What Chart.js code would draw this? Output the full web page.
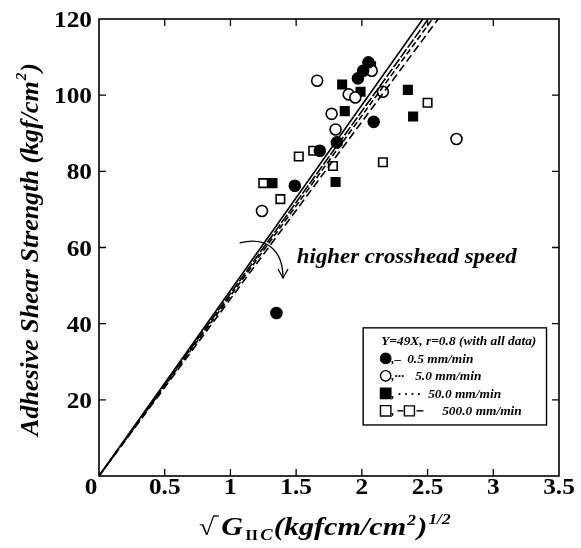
<!DOCTYPE html>
<html><head><meta charset="utf-8">
<script src="https://cdn.jsdelivr.net/npm/chart.js@4"></script>
<style>html,body{margin:0;padding:0;background:#fff}#wrap{width:581px;height:548px}</style>
</head><body><div id="wrap"><canvas id="c" width="581" height="548"></canvas></div>
<script>
const xTicks = [0, 0.5, 1, 1.5, 2, 2.5, 3, 3.5];
const yTicks = [0, 20, 40, 60, 80, 100, 120];
const speeds = ['0.5 mm/min', '5.0 mm/min', '50.0 mm/min', '500.0 mm/min'];
const fitSlopes = [48.7, 47.9, 47.3, 46.5];
const s05 = [[1.35,42.8],[1.49,76.2],[1.68,85.4],[1.81,87.6],[1.97,104.4],[2.01,106.4],[2.05,108.6],[2.09,93.0]];
const s5 = [[1.24,69.6],[1.66,103.8],[1.77,95.1],[1.80,91.0],[1.90,100.2],[1.95,99.4],[2.075,106.4],[2.16,100.9],[2.72,88.5]];
const s50 = [[1.32,76.9],[1.80,77.2],[1.85,102.8],[1.87,95.8],[1.99,100.9],[2.07,107.6],[2.35,101.4],[2.39,94.4]];
const s500 = [[1.25,76.9],[1.38,72.7],[1.52,83.9],[1.63,85.4],[1.78,81.4],[2.16,82.4],[2.50,98.0]];
const legendTitle = 'Y=49X, r=0.8 (with all data)';
const annotationText = 'higher crosshead speed';

const SERIF = '"Liberation Serif", "DejaVu Serif", serif';
const toPts = a => a.map(p => ({x: p[0], y: p[1]}));
const lineDash = [[], [10, 2], [6, 3], [8, 4]];
const yMax = yTicks[yTicks.length - 1];

const pointSets = [
  {data: s05, style: 'circle', fill: '#000'},
  {data: s5, style: 'circle', fill: '#fff'},
  {data: s50, style: 'rect', fill: '#000'},
  {data: s500, style: 'rect', fill: '#fff'}
];

const datasets = [];
fitSlopes.forEach((m, i) => {
  datasets.push({type: 'line', data: [{x: 0, y: 0}, {x: yMax / m, y: yMax}], borderColor: '#000',
    borderWidth: 1.6, borderDash: lineDash[i], pointRadius: 0, fill: false, order: 0, clip: true});
});
pointSets.forEach(ps => {
  datasets.push({type: 'scatter', data: toPts(ps.data), pointStyle: ps.style,
    pointRadius: ps.style === 'rect' ? 6 : 5.5, pointBackgroundColor: ps.fill, pointBorderColor: '#000',
    pointBorderWidth: 1.6, order: 1});
});

function drawMarker(ctx, style, fill, cx, cy, r) {
  ctx.save(); ctx.lineWidth = 1.4; ctx.strokeStyle = '#000'; ctx.fillStyle = fill;
  ctx.beginPath();
  if (style === 'circle') ctx.arc(cx, cy, r, 0, Math.PI * 2);
  else ctx.rect(cx - r, cy - r, 2 * r, 2 * r);
  ctx.fill(); ctx.stroke(); ctx.restore();
}
function sText(ctx, text, x, y, align, sx, baseline) {
  ctx.save(); ctx.translate(x, y); ctx.scale(sx, 1);
  ctx.textAlign = align; ctx.textBaseline = baseline || 'alphabetic';
  ctx.fillText(text, 0, 0); ctx.restore();
}

const framePlugin = {
  id: 'frame',
  afterDraw(chart) {
    const ctx = chart.ctx, a = chart.chartArea, xs = chart.scales.x, ys = chart.scales.y;
    ctx.save();
    ctx.strokeStyle = '#000'; ctx.lineWidth = 1.6;
    ctx.strokeRect(a.left, a.top, a.right - a.left, a.bottom - a.top);
    ctx.lineWidth = 1.3;
    xTicks.slice(1, -1).forEach(v => {
      const px = xs.getPixelForValue(v);
      ctx.beginPath(); ctx.moveTo(px, a.bottom); ctx.lineTo(px, a.bottom - 7);
      ctx.moveTo(px, a.top); ctx.lineTo(px, a.top + 7); ctx.stroke();
    });
    yTicks.slice(1, -1).forEach(v => {
      const py = ys.getPixelForValue(v);
      ctx.beginPath(); ctx.moveTo(a.left, py); ctx.lineTo(a.left + 7, py);
      ctx.moveTo(a.right, py); ctx.lineTo(a.right - 7, py); ctx.stroke();
    });

    // tick labels
    ctx.fillStyle = '#000';
    ctx.font = 'bold 23px ' + SERIF;
    xTicks.forEach(v => {
      const px = xs.getPixelForValue(v);
      sText(ctx, String(v), v === 0 ? px - 8 : px, a.bottom + 18, 'center', 1.1);
    });
    yTicks.slice(1).forEach(v => {
      const py = ys.getPixelForValue(v);
      sText(ctx, String(v), a.left - 7, py + 8, 'right', 1.1);
    });

    // annotation arrow and text
    const P = (x, y) => [xs.getPixelForValue(x), ys.getPixelForValue(y)];
    const s = P(1.07, 61.2), c1 = P(1.27, 63.0), c2 = P(1.40, 59.5), e = P(1.40, 52.0);
    ctx.lineWidth = 1.3;
    ctx.beginPath(); ctx.moveTo(s[0], s[1]); ctx.bezierCurveTo(c1[0], c1[1], c2[0], c2[1], e[0], e[1]); ctx.stroke();
    ctx.beginPath(); ctx.moveTo(e[0] - 5, e[1] - 9); ctx.lineTo(e[0], e[1]); ctx.lineTo(e[0] + 5, e[1] - 9); ctx.stroke();
    const t = P(1.505, 55.9);
    ctx.font = 'italic bold 21px ' + SERIF;
    sText(ctx, annotationText, t[0], t[1], 'left', 1.09);

    // legend box
    const b0 = P(2.01, 38.9), b1 = P(3.405, 13.4);
    ctx.fillStyle = '#fff';
    ctx.fillRect(b0[0], b0[1], b1[0] - b0[0], b1[1] - b0[1]);
    ctx.lineWidth = 1.4; ctx.strokeStyle = '#000';
    ctx.strokeRect(b0[0], b0[1], b1[0] - b0[0], b1[1] - b0[1]);
    ctx.fillStyle = '#000';
    ctx.font = 'italic bold 13px ' + SERIF;
    const lx = b0[0] + 18;
    sText(ctx, legendTitle, lx, b0[1] + 14, 'left', 1.03, 'middle');
    const samples = [',\u2013', ',\u00b7\u00b7\u00b7', ', \u00b7 \u00b7 \u00b7 \u00b7', ','];
    const textOff = [44, 52, 65, 79];
    pointSets.forEach((ps, i) => {
      const cy = b0[1] + 30.5 + i * 17.5;
      drawMarker(ctx, ps.style, ps.fill, lx + 4.5, cy, 5.2);
      ctx.fillStyle = '#000';
      ctx.font = 'italic bold 13px ' + SERIF;
      let x = lx + 10;
      sText(ctx, samples[i], x, cy + 1, 'left', 1, 'middle');
      x += ctx.measureText(samples[i]).width + 3;
      if (i === 3) {
        ctx.lineWidth = 1.4;
        ctx.beginPath(); ctx.moveTo(x, cy); ctx.lineTo(x + 6, cy); ctx.stroke();
        drawMarker(ctx, 'rect', '#fff', x + 12, cy, 5);
        ctx.beginPath(); ctx.moveTo(x + 19, cy); ctx.lineTo(x + 26, cy); ctx.stroke();
      }
      sText(ctx, speeds[i], b0[0] + textOff[i], cy + 1, 'left', 1.03, 'middle');
    });

    // y axis title
    ctx.fillStyle = '#000';
    ctx.save();
    ctx.translate(31, (a.top + a.bottom) / 2 + 2);
    ctx.rotate(-Math.PI / 2);
    ctx.textBaseline = 'middle'; ctx.textAlign = 'left';
    const yt1 = 'Adhesive Shear Strength (kgf/cm', yt2 = '2', yt3 = ')';
    ctx.font = 'italic bold 26px ' + SERIF; const w1 = ctx.measureText(yt1).width, w3 = ctx.measureText(yt3).width;
    ctx.font = 'italic bold 15px ' + SERIF; const w2 = ctx.measureText(yt2).width;
    let yx = -(w1 + w2 + w3 + 2) / 2;
    ctx.font = 'italic bold 26px ' + SERIF;
    ctx.fillText(yt1, yx, 0); yx += w1 + 1;
    ctx.font = 'italic bold 15px ' + SERIF; ctx.fillText(yt2, yx, -9); yx += w2 + 1;
    ctx.font = 'italic bold 26px ' + SERIF; ctx.fillText(yt3, yx, 0);
    ctx.restore();

    // x axis title (horizontally stretched)
    ctx.save();
    ctx.translate(199, 535);
    ctx.scale(1.16, 1);
    let x = 0;
    ctx.textAlign = 'left'; ctx.textBaseline = 'alphabetic';
    ctx.font = 'bold 24px ' + SERIF; ctx.fillText('\u221a', x, 0); x += ctx.measureText('\u221a').width;
    ctx.lineWidth = 1.3; ctx.beginPath(); ctx.moveTo(x - 1, -19); ctx.lineTo(x + 4, -19); ctx.stroke();
    x += 6;
    ctx.font = 'italic bold 26px ' + SERIF; ctx.fillText('G', x, 0); x += ctx.measureText('G').width + 2;
    ctx.font = 'bold 14px ' + SERIF; ctx.fillText('II', x, 5); x += ctx.measureText('II').width + 2;
    ctx.font = 'italic bold 16px ' + SERIF; ctx.fillText('C', x, 5); x += ctx.measureText('C').width + 1;
    ctx.font = 'italic bold 26px ' + SERIF; ctx.fillText('(kgfcm/cm', x, 0); x += ctx.measureText('(kgfcm/cm').width + 1;
    ctx.font = 'italic bold 15px ' + SERIF; ctx.fillText('2', x, -10); x += ctx.measureText('2').width + 1;
    ctx.font = 'italic bold 26px ' + SERIF; ctx.fillText(')', x, 0); x += ctx.measureText(')').width + 1;
    ctx.font = 'italic bold 15px ' + SERIF; ctx.fillText('1/2', x, -11);
    ctx.restore();
    ctx.restore();
  }
};

new Chart(document.getElementById('c'), {
  type: 'scatter',
  data: {datasets},
  options: {
    responsive: false, animation: false, devicePixelRatio: 1,
    layout: {padding: {left: 0, right: 22, top: 19, bottom: 0}},
    plugins: {legend: {display: false}, tooltip: {enabled: false}},
    scales: {
      x: {type: 'linear', min: 0, max: 3.5,
        afterFit: s => { s.height = 72; },
        afterBuildTicks: s => { s.ticks = xTicks.map(v => ({value: v})); },
        grid: {display: false, drawTicks: false}, border: {display: false},
        ticks: {display: false}},
      y: {type: 'linear', min: 0, max: 120,
        afterFit: s => { s.width = 99; },
        afterBuildTicks: s => { s.ticks = yTicks.map(v => ({value: v})); },
        grid: {display: false, drawTicks: false}, border: {display: false},
        ticks: {display: false}}
    }
  },
  plugins: [framePlugin]
});
</script></body></html>
